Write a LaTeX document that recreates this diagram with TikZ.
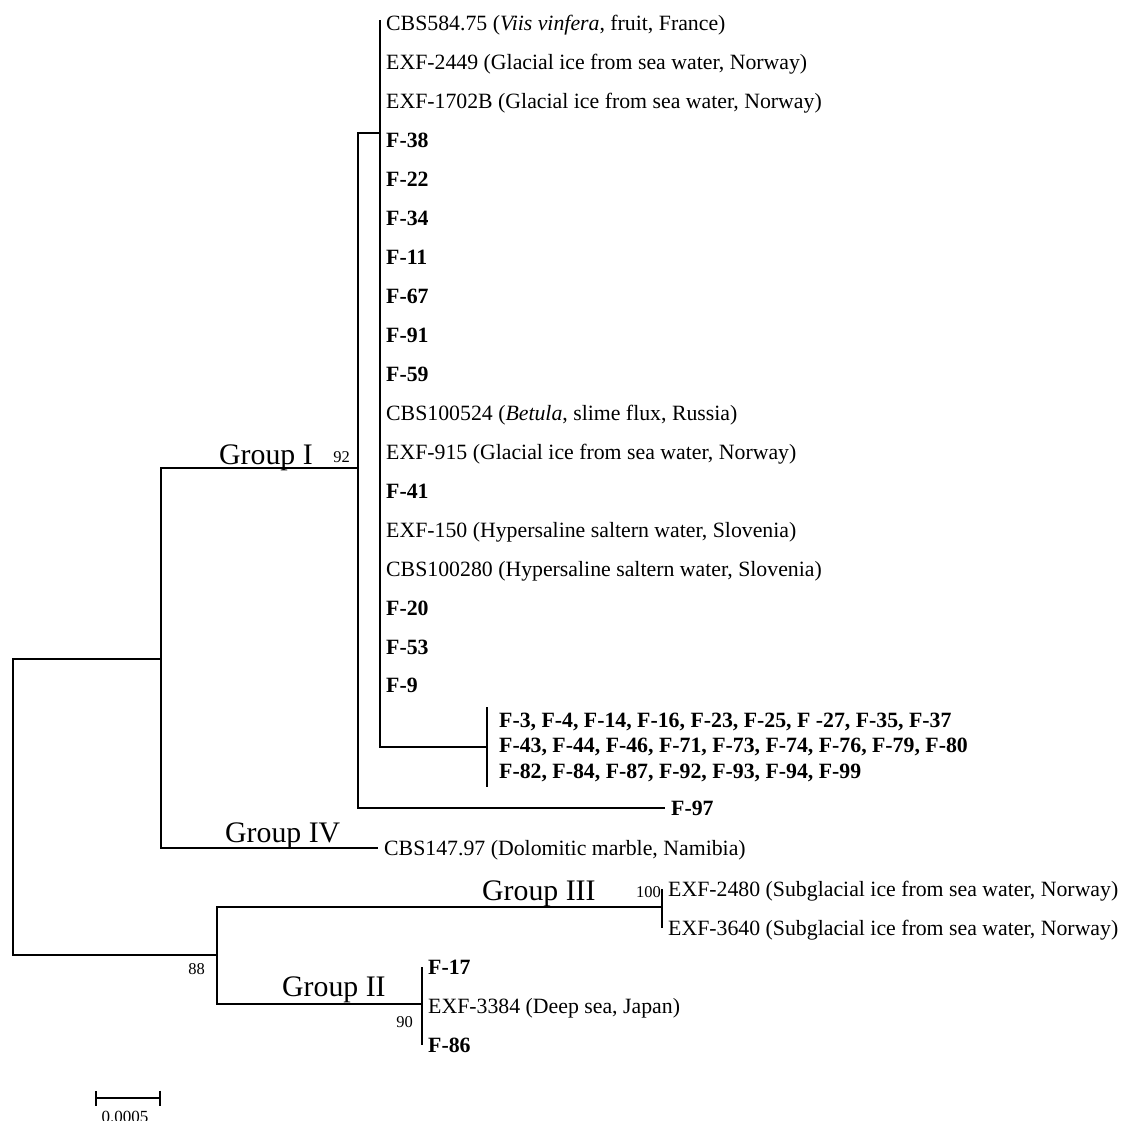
\documentclass[tikz,border=0pt]{standalone}
\usepackage{fontspec}
\setmainfont{Liberation Serif}
\usetikzlibrary{arrows.meta}

\begin{document}
\begin{tikzpicture}[
  x=1pt, y=-1pt,
  branch/.style={line width=2pt},
  strain/.style={anchor=west, inner xsep=6pt, inner ysep=0pt, text height=15pt, text depth=1pt, font=\fontsize{21.8}{25}\selectfont},
  cluster/.style={anchor=west, align=left, inner xsep=12pt, inner ysep=5pt, font=\fontsize{21.8}{25.5}\selectfont\bfseries},
  grp/.style={anchor=base west, inner sep=0pt, font=\fontsize{29.8}{34}\selectfont},
  boot/.style={anchor=base east, inner sep=0pt, font=\fontsize{16.5}{19}\selectfont}
]
\useasboundingbox (0,0) rectangle (1122,1121);

\coordinate (root) at (13,807);
\coordinate (A) at (161,659);
\coordinate (B) at (217,955);
\coordinate (I) at (358,468);
\coordinate (P) at (380,133);
\coordinate (Ptop) at (380,20);
\coordinate (III) at (662,907);
\coordinate (II) at (422,1004);

\draw[branch] (root) |- (A);
\draw[branch] (root) |- (B);

\node[strain] (cbs147) at (378,848) {CBS147.97 (Dolomitic marble, Namibia)};
\draw[branch] (A) |- (I);
\draw[branch] (A) |- (cbs147);

\node[strain] (f97) at (665,808) {\textbf{F-97}};
\draw[branch] (I) |- (P);
\draw[branch] (I) |- (f97);

\draw[branch] (P) -- (Ptop);
\foreach \lbl [count=\i] in {
  {CBS584.75 (\textit{Viis vinfera}, fruit, France)},
  {EXF-2449 (Glacial ice from sea water, Norway)},
  {EXF-1702B (Glacial ice from sea water, Norway)},
  {\textbf{F-38}}, {\textbf{F-22}}, {\textbf{F-34}}, {\textbf{F-11}},
  {\textbf{F-67}}, {\textbf{F-91}}, {\textbf{F-59}},
  {CBS100524 (\textit{Betula}, slime flux, Russia)},
  {EXF-915 (Glacial ice from sea water, Norway)},
  {\textbf{F-41}},
  {EXF-150 (Hypersaline saltern water, Slovenia)},
  {CBS100280 (Hypersaline saltern water, Slovenia)},
  {\textbf{F-20}}, {\textbf{F-53}}, {\textbf{F-9}}
}{
  \node[strain] (t\i) at (380,{24+38.94*(\i-1)}) {\lbl};
  \draw[branch] (P) |- (t\i);
}

\node[cluster] (clu) at (487,747)
  {F-3, F-4, F-14, F-16, F-23, F-25, F -27, F-35, F-37\\
   F-43, F-44, F-46, F-71, F-73, F-74, F-76, F-79, F-80\\
   F-82, F-84, F-87, F-92, F-93, F-94, F-99};
\draw[branch] (P) |- (clu.west);
\draw[branch] (clu.north west) -- (clu.south west);

\node[strain] (e2480) at (662,889) {EXF-2480 (Subglacial ice from sea water, Norway)};
\node[strain] (e3640) at (662,928) {EXF-3640 (Subglacial ice from sea water, Norway)};
\draw[branch] (B) |- (III);
\draw[branch] (III) |- (e2480);
\draw[branch] (III) |- (e3640);

\node[strain] (f17) at (422,967) {\textbf{F-17}};
\node[strain] (e3384) at (422,1006) {EXF-3384 (Deep sea, Japan)};
\node[strain] (f86) at (422,1045) {\textbf{F-86}};
\draw[branch] (B) |- (II);
\draw[branch] (II) |- (f17);
\draw[branch] (II) |- (e3384);
\draw[branch] (II) |- (f86);

\node[grp] (gI) at (219,464) {Group I};
\node[grp] (gIV) at (225,842) {Group IV};
\node[grp] (gIII) at (482,900) {Group III};
\node[grp] (gII) at (282,996) {Group II};

\node[boot] (bI) at (350,462) {92};
\node[boot] (bB) at (205,974) {88};
\node[boot] (bII) at (413,1027) {90};
\node[boot] (bIII) at (661,897) {100};

\coordinate (sbL) at (95,1098);
\coordinate (sbR) at (161,1098);
\draw[branch, {Bar[width=15pt]}-{Bar[width=15pt]}] (sbL) -- (sbR);
\node[anchor=north, inner sep=0pt, font=\fontsize{17}{19}\selectfont] (sbl) at (125,1111) {0.0005};

\end{tikzpicture}
\end{document}
